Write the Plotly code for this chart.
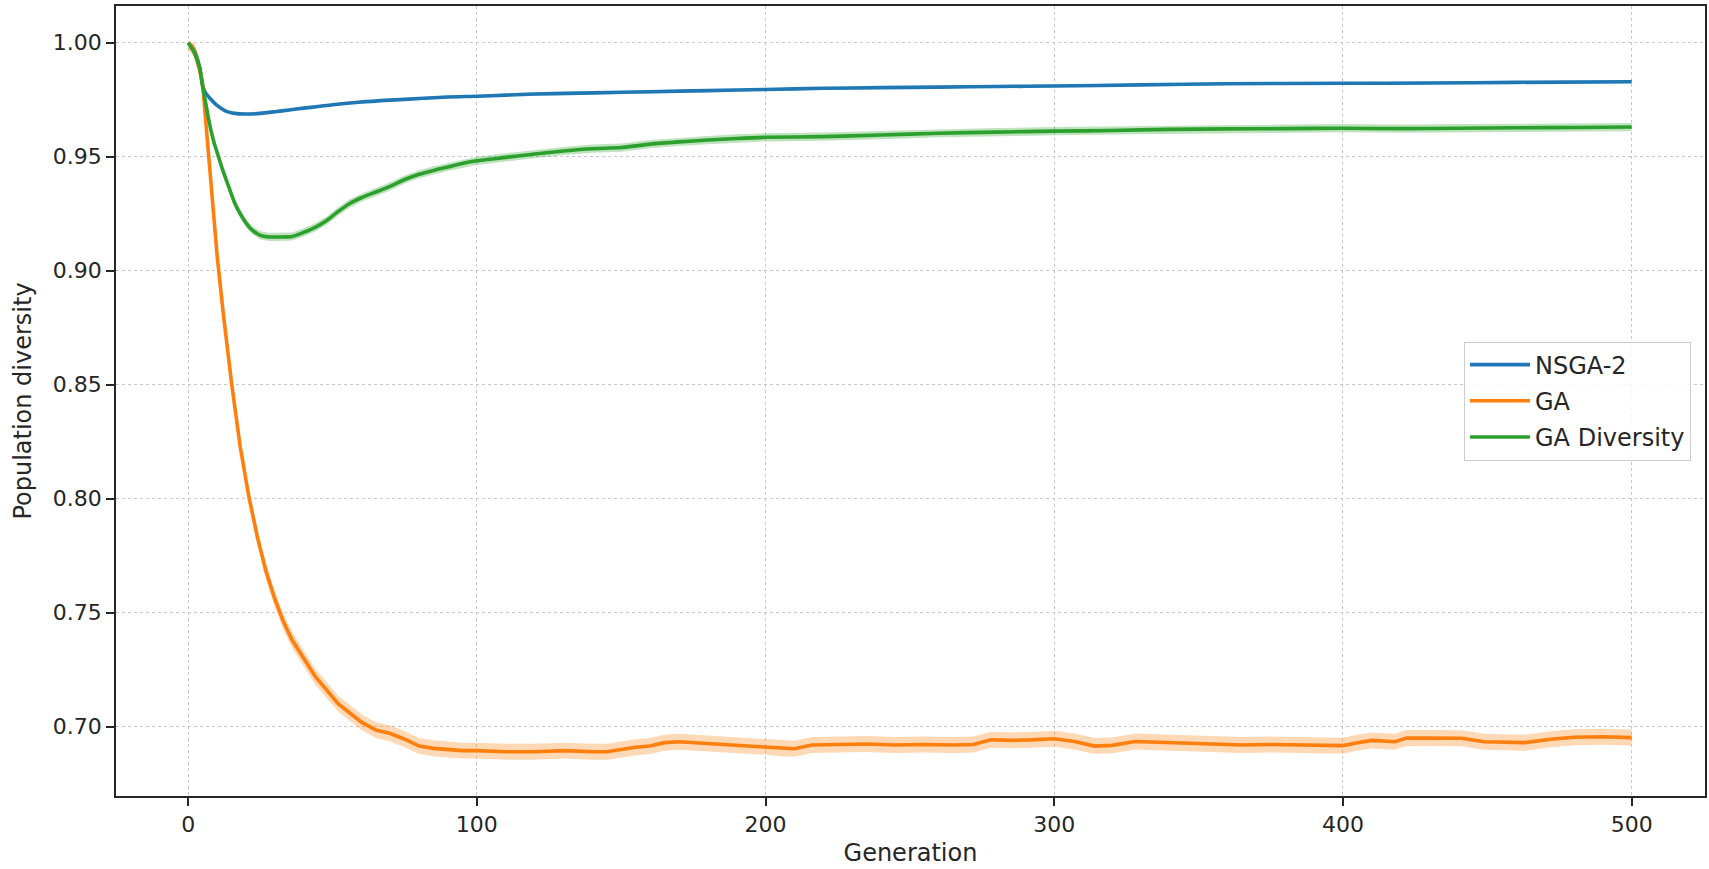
import numpy as np
import plotly.graph_objects as go

# Mean population diversity per generation for each algorithm
gen_nsga2 = [0, 2, 4, 5, 6, 8, 10, 13, 16, 20, 25, 30, 35, 40, 45, 50, 60, 70, 80, 90,
             100, 110, 120, 140, 160, 180, 200, 220, 240, 260, 280, 300, 330, 360, 400,
             430, 460, 500]
div_nsga2 = [1.000, 0.997, 0.989, 0.981, 0.978, 0.975, 0.9725, 0.9700, 0.9690, 0.9687,
             0.9690, 0.9697, 0.9705, 0.9713, 0.9720, 0.9728, 0.9740, 0.9748, 0.9755, 0.9762,
             0.9765, 0.9770, 0.9775, 0.9780, 0.9785, 0.9790, 0.9795, 0.9800, 0.9803, 0.9805,
             0.9808, 0.9810, 0.9815, 0.9820, 0.9822, 0.9823, 0.9826, 0.9829]

gen_ga = [0, 1, 2, 3, 4, 5, 6, 7, 8, 9, 10, 12, 15, 18, 21, 24, 27, 30, 33, 36, 40, 44,
          48, 52, 56, 60, 65, 70, 75, 80, 85, 90, 95, 100, 110, 120, 130, 140, 145, 150,
          155, 160, 165, 170, 175, 180, 190, 200, 205, 210, 216, 225, 235, 245, 255, 265,
          272, 278, 285, 292, 300, 307, 314, 320, 328, 336, 345, 355, 365, 375, 385, 395,
          400, 405, 410, 418, 422, 430, 441, 449, 456, 463, 472, 480, 490, 500]
div_ga = [1.000, 0.999, 0.997, 0.993, 0.988, 0.982, 0.968, 0.952, 0.937, 0.922, 0.907,
          0.883, 0.851, 0.823, 0.801, 0.783, 0.768, 0.756, 0.746, 0.738, 0.730, 0.722,
          0.716, 0.710, 0.706, 0.702, 0.6985, 0.6970, 0.6945, 0.6915, 0.6905, 0.6900,
          0.6895, 0.6895, 0.6890, 0.6890, 0.6895, 0.6890, 0.6890, 0.6900, 0.6910, 0.6915,
          0.6930, 0.6934, 0.6930, 0.6925, 0.6920, 0.6912, 0.6905, 0.6903, 0.6920, 0.6922,
          0.6924, 0.6920, 0.6922, 0.6920, 0.6922, 0.6943, 0.6940, 0.6942, 0.6947, 0.6935,
          0.6915, 0.6918, 0.6935, 0.6932, 0.6928, 0.6925, 0.6920, 0.6922, 0.6920, 0.6917,
          0.6917, 0.6930, 0.6940, 0.6934, 0.6950, 0.6950, 0.6949, 0.6934, 0.6932, 0.6930,
          0.6945, 0.6954, 0.6956, 0.6952]

gen_gadiv = [0, 2, 4, 5, 6, 7, 8, 9, 10, 12, 14, 16, 18, 20, 22, 25, 28, 32, 36, 40, 44,
             48, 52, 56, 60, 65, 70, 75, 80, 85, 90, 95, 100, 110, 120, 130, 140, 150, 160,
             170, 180, 190, 200, 220, 240, 260, 280, 300, 320, 340, 360, 380, 400, 420,
             440, 460, 480, 500]
div_gadiv = [1.000, 0.996, 0.989, 0.981, 0.974, 0.967, 0.961, 0.956, 0.952, 0.944, 0.937,
             0.930, 0.925, 0.921, 0.918, 0.9155, 0.9148, 0.9148, 0.9150, 0.9168, 0.9190,
             0.9220, 0.9260, 0.9295, 0.9320, 0.9345, 0.9370, 0.9400, 0.9423, 0.9440,
             0.9455, 0.9470, 0.9482, 0.9497, 0.9512, 0.9525, 0.9535, 0.9540, 0.9555,
             0.9565, 0.9573, 0.9580, 0.9585, 0.9588, 0.9595, 0.9603, 0.9608, 0.9612,
             0.9615, 0.9620, 0.9622, 0.9623, 0.9625, 0.9623, 0.9625, 0.9627, 0.9628, 0.9630]

# Half-width of the shaded spread around each mean curve
spread = {"NSGA-2": 0.0006, "GA": 0.0035, "GA Diversity": 0.0018}

# name, x, y, line colour, band colour, line shape
series = [
    ("NSGA-2", gen_nsga2, div_nsga2, "#1f77b4", "rgba(31,119,180,0.3)", "spline"),
    ("GA", gen_ga, div_ga, "#ff7f0e", "rgba(255,127,14,0.3)", "linear"),
    ("GA Diversity", gen_gadiv, div_gadiv, "#2ca02c", "rgba(44,160,44,0.3)", "spline"),
]

FONT = "DejaVu Sans"
TXT = "#262626"
FS = 24      # axis titles and legend
FS_TICK = 22

fig = go.Figure()
for name, gx, gy, col, fillcol, shape in series:
    y = np.array(gy)
    hi = np.minimum(y + spread[name], 1.0)
    lo = y - spread[name]
    fig.add_trace(go.Scatter(
        x=list(gx) + list(gx)[::-1], y=list(hi) + list(lo)[::-1],
        fill="toself", fillcolor=fillcol, line=dict(width=0),
        mode="lines", showlegend=False, hoverinfo="skip",
    ))
    fig.add_trace(go.Scatter(
        x=gx, y=gy, mode="lines", name=name, legendgroup=name,
        line=dict(color=col, width=3.6, shape=shape, smoothing=0.6),
    ))

axis_common = dict(
    showline=True, linecolor="#262626", linewidth=1.6, mirror=True,
    ticks="outside", ticklen=8, tickwidth=1.6, tickcolor="#262626",
    showgrid=True, gridcolor="#c8c8c8", gridwidth=1, griddash="dot",
    zeroline=False, tickfont=dict(family=FONT, size=FS_TICK, color=TXT),
)

fig.update_xaxes(
    range=[-25, 525.4], tickmode="array", tickvals=[0, 100, 200, 300, 400, 500],
    title=dict(text="Generation", font=dict(family=FONT, size=FS, color=TXT), standoff=8),
    **axis_common,
)
fig.update_yaxes(
    range=[0.6696, 1.0161], tickmode="array",
    tickvals=[0.70, 0.75, 0.80, 0.85, 0.90, 0.95, 1.00], tickformat=".2f",
    title=dict(text="Population diversity", font=dict(family=FONT, size=FS, color=TXT), standoff=14),
    **axis_common,
)

fig.update_layout(
    width=1709, height=869,
    margin=dict(l=116, r=2, t=6, b=73),
    paper_bgcolor="white", plot_bgcolor="white",
    font=dict(family=FONT, size=FS, color=TXT),
    showlegend=True,
    legend=dict(
        x=0.9912, y=0.5, xanchor="right", yanchor="middle",
        bgcolor="rgba(255,255,255,0.85)", bordercolor="#cccccc", borderwidth=1,
        font=dict(family=FONT, size=FS, color=TXT),
        itemwidth=60, tracegroupgap=2,
    ),
)

fig.write_html("out.html")
